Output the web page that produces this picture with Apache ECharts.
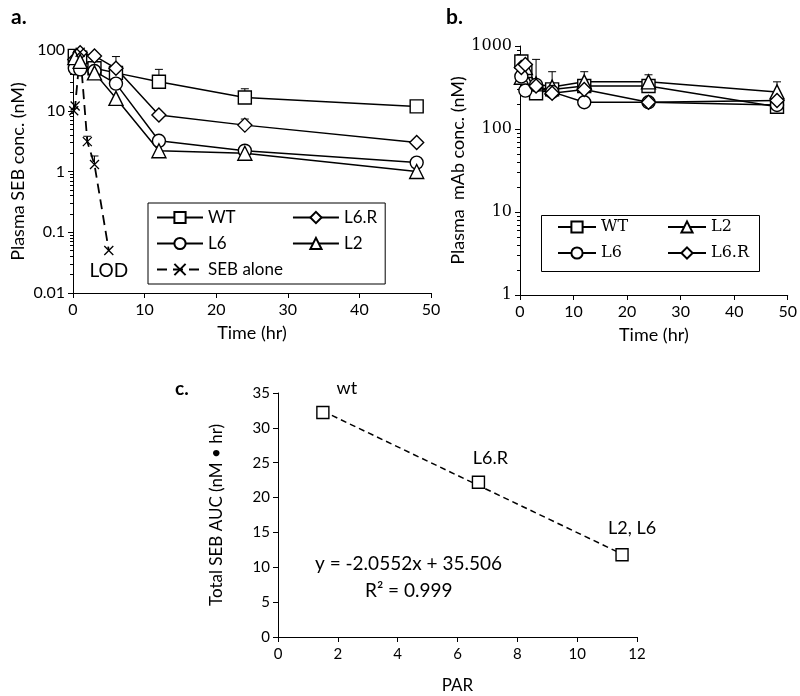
<!DOCTYPE html>
<html>
<head>
<meta charset="utf-8">
<script src="https://cdn.jsdelivr.net/npm/echarts@6/dist/echarts.min.js"></script>
<style>
  html, body { margin: 0; padding: 0; background: #fff; }
  #chart { width: 800px; height: 696px; }
</style>
</head>
<body>
<div id="chart"></div>
<script>
// panel a: plasma SEB conc. (nM) vs time (hr)
const timesA = [0.25, 1, 3, 6, 12, 24, 48]
const wtA = [80, 75, 50, 42, 30, 16.5, 11.8]
const l6rA = [70, 90, 80, 50, 8.5, 5.8, 3.0]
const l6A = [50, 48, 45, 28, 3.2, 2.2, 1.4]
const l2A = [75, 65, 42, 16, 2.2, 2.0, 1.0]
const sebTimes = [0.1, 0.3, 1, 2, 3, 5]
const sebAlone = [10, 12, 92, 3.1, 1.3, 0.05]
// upper error bar ends (null = none)
const wtErrA = [null, null, null, 78, 48, 23, 14]
const l6rErrA = [null, null, null, null, null, 7.3, null]
const sebErr = [null, null, null, 3.8, 1.8, null]

// panel b: plasma mAb conc. (nM) vs time (hr)
const timesB = [0.25, 1, 3, 6, 12, 24, 48]
const wtB = [650, 500, 270, 300, 330, 330, 185]
const l2B = [420, 550, 350, 320, 370, 370, 280]
const l6B = [430, 290, 340, 280, 210, 210, 195]
const l6rB = [550, 600, 330, 270, 300, 210, 220]
const wtErrB = [760, null, 690, null, null, null, null]
const l2ErrB = [null, null, null, 490, 490, 450, 370]

// panel c: total SEB AUC vs PAR
const parX = [1.5, 6.7, 11.5]
const aucY = [32.2, 22.2, 11.8]
const aucNames = ['wt', 'L6.R', 'L2, L6']
const trendX = [1.5, 11.5]
const trendY = [32.4, 11.9]

const chart = echarts.init(document.getElementById('chart'))

const sans = 'Lato'
const serif = 'DejaVu Serif'
const black = '#000'

const pairs = (xs, ys) => xs.map((x, i) => [x, ys[i]])
const errPairs = (xs, ys, ups) => {
  const out = []
  ups.forEach((u, i) => { if (u != null) out.push([xs[i], ys[i], u]) })
  return out
}

const renderErr = (params, api) => {
  const p1 = api.coord([api.value(0), api.value(1)])
  const p2 = api.coord([api.value(0), api.value(2)])
  const st = { stroke: black, lineWidth: 1 }
  return {
    type: 'group',
    children: [
      { type: 'line', shape: { x1: p1[0], y1: p1[1], x2: p2[0], y2: p2[1] }, style: st },
      { type: 'line', shape: { x1: p2[0] - 4, y1: p2[1], x2: p2[0] + 4, y2: p2[1] }, style: st }
    ]
  }
}

const mk = { color: '#fff', borderColor: black, borderWidth: 1.4 }
const ln = { color: black, width: 1.5 }

const lineSeries = (name, xs, ys, symbol, size, xi) => ({
  name,
  type: 'line',
  xAxisIndex: xi,
  yAxisIndex: xi,
  data: pairs(xs, ys),
  symbol,
  symbolSize: size,
  showAllSymbol: true,
  itemStyle: mk,
  lineStyle: ln,
  z: 3
})

const errSeries = (name, xs, ys, ups, xi) => ({
  name,
  type: 'custom',
  xAxisIndex: xi,
  yAxisIndex: xi,
  data: errPairs(xs, ys, ups),
  renderItem: renderErr,
  z: 2
})

const xTick = { show: true, length: 5, inside: false, lineStyle: { color: black } }
const axLine = { show: true, lineStyle: { color: black, width: 1 } }

const legendB = (names, left) => ({
  data: names,
  orient: 'vertical',
  left,
  top: 219,
  padding: 0,
  itemGap: 10,
  itemWidth: 38,
  itemHeight: 14,
  textStyle: { fontFamily: serif, fontSize: 16, color: black }
})

const option = {
  animation: false,
  backgroundColor: '#fff',
  textStyle: { fontFamily: sans },
  title: [
    { text: 'a.', left: 6, top: 2, textStyle: { fontFamily: sans, fontSize: 21, fontWeight: 'bold', color: black } },
    { text: 'b.', left: 441, top: 2, textStyle: { fontFamily: sans, fontSize: 21, fontWeight: 'bold', color: black } },
    { text: 'c.', left: 170, top: 374, textStyle: { fontFamily: sans, fontSize: 19, fontWeight: 'bold', color: black } }
  ],
  grid: [
    { left: 73, top: 50, width: 358, height: 243 },
    { left: 520, top: 46, width: 268, height: 249 },
    { left: 278, top: 393, width: 359, height: 244 }
  ],
  legend: [
    {
      data: ['WT', 'L6', 'SEB alone', 'L6.R', 'L2'],
      orient: 'vertical',
      left: 148,
      top: 203,
      width: 274,
      height: 78,
      padding: [6, 8, 6, 8],
      itemGap: 9,
      itemWidth: 46,
      itemHeight: 14,
      borderColor: black,
      borderWidth: 1,
      textStyle: { fontFamily: sans, fontSize: 17, color: black }
    },
    legendB(['WT', 'L6'], 557),
    legendB(['L2', 'L6.R'], 667)
  ],
  xAxis: [
    {
      gridIndex: 0, type: 'value', min: 0, max: 50, interval: 10,
      name: 'Time (hr)', nameLocation: 'middle', nameGap: 31,
      nameTextStyle: { fontFamily: sans, fontSize: 18, color: black },
      axisLine: axLine, axisTick: xTick, splitLine: { show: false },
      axisLabel: { fontFamily: sans, fontSize: 16, color: black, margin: 9 }
    },
    {
      gridIndex: 1, type: 'value', min: 0, max: 50, interval: 10,
      name: 'Time (hr)', nameLocation: 'middle', nameGap: 31,
      nameTextStyle: { fontFamily: sans, fontSize: 18, color: black },
      axisLine: axLine, axisTick: xTick, splitLine: { show: false },
      axisLabel: { fontFamily: sans, fontSize: 16, color: black, margin: 9 }
    },
    {
      gridIndex: 2, type: 'value', min: 0, max: 12, interval: 2,
      name: 'PAR', nameLocation: 'middle', nameGap: 40,
      nameTextStyle: { fontFamily: sans, fontSize: 17, color: black },
      axisLine: axLine, axisTick: xTick, splitLine: { show: false },
      axisLabel: { fontFamily: sans, fontSize: 15, color: black, margin: 10 }
    }
  ],
  yAxis: [
    {
      gridIndex: 0, type: 'log', min: 0.01, max: 100, logBase: 10,
      name: 'Plasma SEB conc. (nM)', nameLocation: 'middle', nameGap: 46, nameRotate: 90,
      nameTextStyle: { fontFamily: sans, fontSize: 18, color: black },
      axisLine: axLine, axisTick: { show: true, length: 5, lineStyle: { color: black } },
      minorTick: { show: true, splitNumber: 9, length: 3, lineStyle: { color: black } },
      splitLine: { show: false },
      axisLabel: { fontFamily: sans, fontSize: 16, color: black, margin: 8 }
    },
    {
      gridIndex: 1, type: 'log', min: 1, max: 1000, logBase: 10,
      name: 'Plasma  mAb conc. (nM)', nameLocation: 'middle', nameGap: 45, nameRotate: 90,
      nameTextStyle: { fontFamily: sans, fontSize: 18, color: black },
      axisLine: axLine, axisTick: { show: true, length: 5, lineStyle: { color: black } },
      minorTick: { show: true, splitNumber: 9, length: 3, lineStyle: { color: black } },
      splitLine: { show: false },
      axisLabel: { fontFamily: serif, fontSize: 16, color: black, margin: 8, formatter: v => String(Math.round(v)) }
    },
    {
      gridIndex: 2, type: 'value', min: 0, max: 35, interval: 5,
      name: 'Total SEB AUC (nM • hr)', nameLocation: 'middle', nameGap: 53, nameRotate: 90,
      nameTextStyle: { fontFamily: sans, fontSize: 17, color: black },
      axisLine: axLine, axisTick: { show: true, length: 5, lineStyle: { color: black } },
      splitLine: { show: false },
      axisLabel: { fontFamily: sans, fontSize: 15, color: black, margin: 8 }
    }
  ],
  graphic: [
    { type: 'rect', left: 539, top: 213, shape: { width: 218, height: 56 }, style: { fill: 'none', stroke: black, lineWidth: 1 } },
    { type: 'text', left: 315, top: 554, style: { text: 'y = -2.0552x + 35.506', font: '19px ' + sans, fill: black } },
    { type: 'text', left: 365, top: 581, style: { text: 'R² = 0.999', font: '19px ' + sans, fill: black } }
  ],
  series: [
    errSeries('errWT', timesA, wtA, wtErrA, 0),
    errSeries('errL6R', timesA, l6rA, l6rErrA, 0),
    errSeries('errSEB', sebTimes, sebAlone, sebErr, 0),
    lineSeries('WT', timesA, wtA, 'rect', 13, 0),
    lineSeries('L6.R', timesA, l6rA, 'diamond', 14, 0),
    lineSeries('L6', timesA, l6A, 'circle', 13, 0),
    lineSeries('L2', timesA, l2A, 'triangle', 14, 0),
    {
      name: 'SEB alone',
      type: 'line',
      xAxisIndex: 0,
      yAxisIndex: 0,
      data: sebTimes.map((t, i) => i === sebTimes.length - 1
        ? { value: [t, sebAlone[i]], label: { show: true, formatter: 'LOD', position: 'bottom', distance: 6, fontFamily: sans, fontSize: 19, color: black } }
        : [t, sebAlone[i]]),
      symbol: 'path://M0,0L10,10M10,0L0,10',
      symbolSize: 9,
      itemStyle: { color: black, borderColor: black, borderWidth: 1.3 },
      lineStyle: { color: black, width: 1.8, type: [10, 6] },
      z: 3
    },
    errSeries('errWTb', timesB, wtB, wtErrB, 1),
    errSeries('errL2b', timesB, l2B, l2ErrB, 1),
    lineSeries('WT', timesB, wtB, 'rect', 13, 1),
    lineSeries('L2', timesB, l2B, 'triangle', 14, 1),
    lineSeries('L6', timesB, l6B, 'circle', 13, 1),
    lineSeries('L6.R', timesB, l6rB, 'diamond', 14, 1),
    {
      name: 'trend',
      type: 'line',
      xAxisIndex: 2,
      yAxisIndex: 2,
      data: pairs(trendX, trendY),
      symbol: 'none',
      lineStyle: { color: black, width: 1.5, type: [6, 4] },
      z: 2
    },
    {
      name: 'AUC',
      type: 'scatter',
      xAxisIndex: 2,
      yAxisIndex: 2,
      data: parX.map((x, i) => ({ value: [x, aucY[i]], name: aucNames[i] })),
      symbol: 'rect',
      symbolSize: 12,
      itemStyle: { color: '#fff', borderColor: black, borderWidth: 1.4, opacity: 1 },
      label: {
        show: true,
        formatter: p => p.name,
        position: 'top',
        fontFamily: sans,
        fontSize: 18,
        color: black,
        opacity: 1
      },
      labelLayout: p => {
        const off = [[24, -4], [12, -3], [10, -6]][p.dataIndex]
        return { dx: off[0], dy: off[1] }
      },
      z: 3
    }
  ]
}

chart.setOption(option)
</script>
</body>
</html>
